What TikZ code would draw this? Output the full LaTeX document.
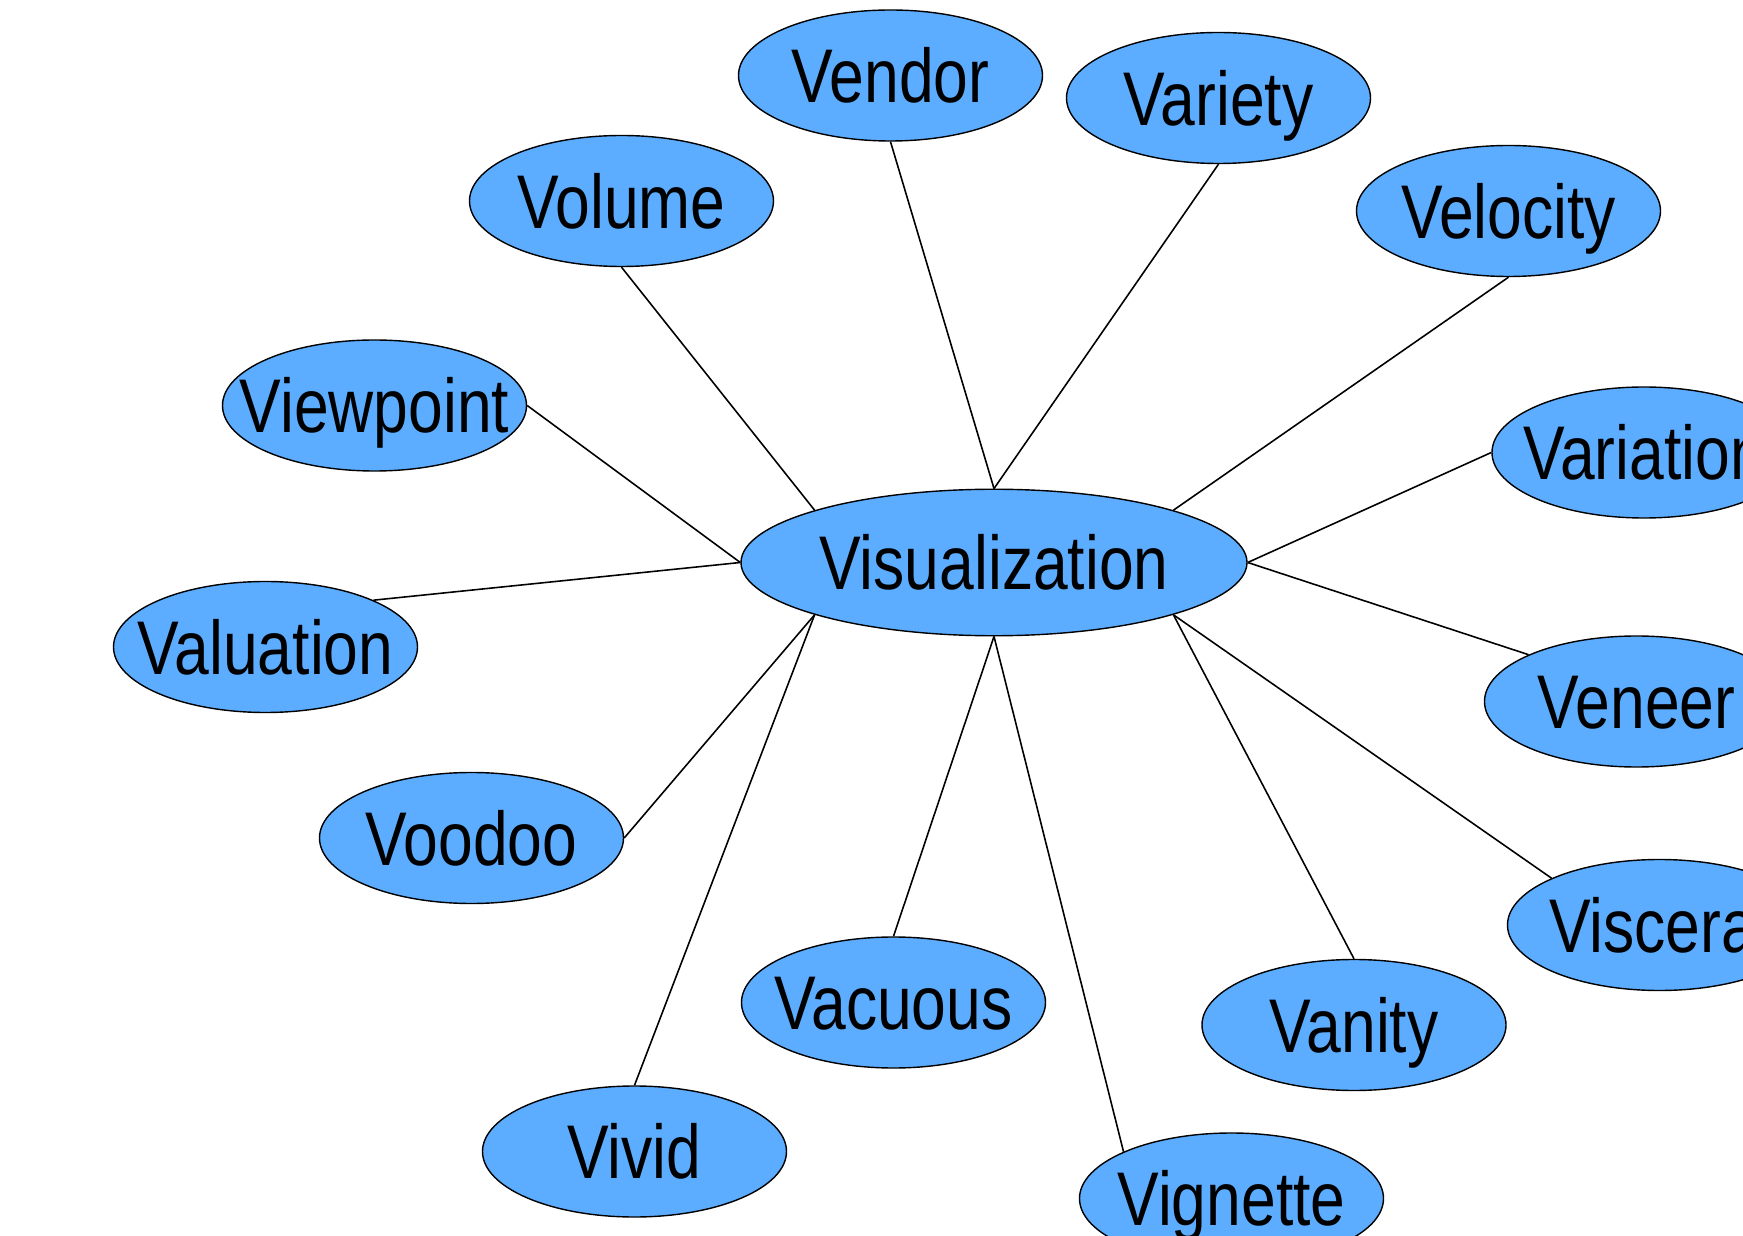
\documentclass[tikz,border=0pt]{standalone}
\usepackage{fontspec}
\setmainfont{Liberation Sans}[FakeStretch=0.82]
\usepackage{xcolor}
\usetikzlibrary{shapes.geometric}
\pgfdeclarelayer{edgelayer}
\pgfdeclarelayer{nodelayer}
\pgfsetlayers{nodelayer,main,edgelayer}
\definecolor{termblue}{RGB}{92,173,255}
\tikzset{
	word/.style={draw, line width=0.8pt, ellipse, fill=termblue, inner sep=0pt,
		text height=1.09cm, text depth=0pt, font=\fontsize{43.3pt}{52pt}\selectfont,
		execute at begin node={\hbox to 0pt\bgroup\hss}, execute at end node={\hss\egroup}},
	hub/.style={word, minimum width=10.12cm, minimum height=2.93cm},
	term/.style={word, minimum width=6.08cm, minimum height=2.62cm},
	link/.style={line width=0.9pt}
}
\begin{document}
\begin{tikzpicture}
	\useasboundingbox (0, 0) rectangle (34.86, -24.72);
	\begin{pgfonlayer}{nodelayer}
		\node [style=hub] (0) at (19.88, -11.25) {Visualization};
		\node [style=term] (1) at (17.81, -1.51) {Vendor};
		\node [style=term] (2) at (24.37, -1.96) {Variety};
		\node [style=term] (3) at (12.43, -4.02) {Volume};
		\node [style=term] (4) at (30.17, -4.22) {Velocity};
		\node [style=term] (5) at (7.49, -8.11) {Viewpoint};
		\node [style=term] (6) at (32.88, -9.05) {Variation};
		\node [style=term] (7) at (5.31, -12.94) {Valuation};
		\node [style=term] (8) at (32.73, -14.03) {Veneer};
		\node [style=term] (9) at (9.43, -16.76) {Voodoo};
		\node [style=term] (10) at (33.19, -18.50) {Visceral};
		\node [style=term] (11) at (17.87, -20.05) {Vacuous};
		\node [style=term] (12) at (27.08, -20.50) {Vanity};
		\node [style=term] (13) at (12.69, -23.03) {Vivid};
		\node [style=term] (14) at (24.63, -23.97) {Vignette};
	\end{pgfonlayer}
	\begin{pgfonlayer}{edgelayer}
		\draw [style=link] (1.south) to (0.north);
		\draw [style=link] (2.south) to (0.north);
		\draw [style=link] (3.south) to (0.north west);
		\draw [style=link] (4.south) to (0.north east);
		\draw [style=link] (5.east) to (0.west);
		\draw [style=link] (7.north east) to (0.west);
		\draw [style=link] (6.west) to (0.east);
		\draw [style=link] (8.north west) to (0.east);
		\draw [style=link] (9.east) to (0.south west);
		\draw [style=link] (13.north) to (0.south west);
		\draw [style=link] (11.north) to (0.south);
		\draw [style=link] (14.north west) to (0.south);
		\draw [style=link] (12.north) to (0.south east);
		\draw [style=link] (10.north west) to (0.south east);
	\end{pgfonlayer}
\end{tikzpicture}
\end{document}
